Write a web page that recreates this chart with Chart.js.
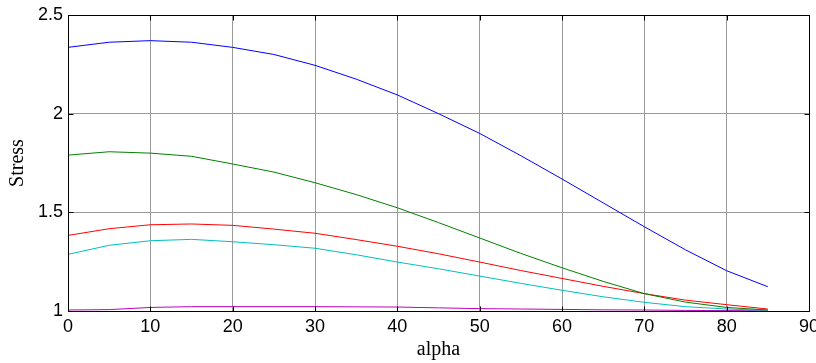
<!DOCTYPE html>
<html>
<head>
<meta charset="utf-8">
<script src="https://cdn.jsdelivr.net/npm/chart.js@4"></script>
<style>
    body { margin: 0; background: #fff; }
    #box { width: 816px; height: 363px; }
</style>
</head>
<body>
<div id="box"><canvas id="grafico" width="816" height="363"></canvas></div>
<script>
// DADOS
const alpha = [0, 5, 10, 15, 20, 25, 30, 35, 40, 45, 50, 55, 60, 65, 70, 75, 80, 85];
const xTicks = [0, 10, 20, 30, 40, 50, 60, 70, 80, 90];
const yTicks = [1, 1.5, 2, 2.5];

const stressBlue    = [2.336, 2.362, 2.370, 2.362, 2.336, 2.300, 2.245, 2.175, 2.095, 2.000, 1.900, 1.787, 1.669, 1.548, 1.427, 1.310, 1.204, 1.123];
const stressGreen   = [1.790, 1.807, 1.800, 1.784, 1.745, 1.704, 1.650, 1.590, 1.523, 1.448, 1.370, 1.292, 1.219, 1.150, 1.088, 1.045, 1.018, 1.005];
const stressRed     = [1.383, 1.417, 1.437, 1.441, 1.434, 1.415, 1.394, 1.362, 1.328, 1.290, 1.248, 1.205, 1.165, 1.125, 1.088, 1.055, 1.032, 1.010];
const stressCyan    = [1.287, 1.333, 1.356, 1.363, 1.351, 1.336, 1.318, 1.285, 1.248, 1.214, 1.177, 1.140, 1.105, 1.072, 1.044, 1.022, 1.010, 1.003];
const stressMagenta = [1.005, 1.007, 1.018, 1.022, 1.022, 1.022, 1.022, 1.021, 1.020, 1.016, 1.012, 1.010, 1.008, 1.006, 1.005, 1.003, 1.002, 1.001];

const pares = (ys) => alpha.map((x, i) => ({ x: x, y: ys[i] }));

const serie = (dados, cor) => ({
    data: pares(dados),
    borderColor: cor,
    borderWidth: 1,
    pointRadius: 0,
    tension: 0,
    fill: false
});

// moldura preta + marcas de tick para dentro (estilo MATLAB)
const moldura = {
    id: 'moldura',
    afterDatasetsDraw(chart) {
        const a = chart.chartArea;
        const ctx = chart.ctx;
        const L = Math.round(a.left) + 0.5, R = Math.round(a.right) + 0.5;
        const T = Math.round(a.top) + 0.5, B = Math.round(a.bottom) + 0.5;
        const tam = 5;
        ctx.save();
        ctx.strokeStyle = '#000';
        ctx.lineWidth = 1;
        ctx.beginPath();
        chart.scales.x.ticks.forEach(t => {
            const px = Math.round(chart.scales.x.getPixelForValue(t.value)) + 0.5;
            ctx.moveTo(px, B); ctx.lineTo(px, B - tam);
            ctx.moveTo(px, T); ctx.lineTo(px, T + tam);
        });
        chart.scales.y.ticks.forEach(t => {
            const py = Math.round(chart.scales.y.getPixelForValue(t.value)) + 0.5;
            ctx.moveTo(L, py); ctx.lineTo(L + tam, py);
            ctx.moveTo(R, py); ctx.lineTo(R - tam, py);
        });
        ctx.stroke();
        ctx.strokeRect(L, T, R - L, B - T);
        ctx.restore();
    }
};

const fonteTicks = { family: '"Liberation Sans", Arial, sans-serif', size: 18 };
const fonteTitulo = { family: '"Liberation Serif", "Times New Roman", serif', size: 20 };

new Chart(document.getElementById('grafico'), {
    type: 'line',
    data: {
        datasets: [
            serie(stressBlue, '#0000ff'),
            serie(stressGreen, '#008000'),
            serie(stressRed, '#ff0000'),
            serie(stressCyan, '#00bfbf'),
            serie(stressMagenta, '#bf00bf')
        ]
    },
    options: {
        responsive: false,
        animation: false,
        layout: { padding: { top: 15, right: 7, left: 0, bottom: 0 } },
        plugins: {
            legend: { display: false },
            tooltip: { enabled: false }
        },
        scales: {
            x: {
                type: 'linear',
                min: 0,
                max: 90,
                afterBuildTicks: (s) => { s.ticks = xTicks.map(v => ({ value: v })); },
                afterFit: (s) => { s.height = 52; s.paddingLeft = 0; s.paddingRight = 0; },
                grid: { color: '#9a9a9a', lineWidth: 1, drawTicks: false },
                border: { display: false },
                ticks: { color: '#000', font: fonteTicks, padding: 5, maxRotation: 0 },
                title: { display: true, text: 'alpha', color: '#000', font: fonteTitulo, padding: { top: 0, bottom: 1 } }
            },
            y: {
                min: 1,
                max: 2.5,
                afterBuildTicks: (s) => { s.ticks = yTicks.map(v => ({ value: v })); },
                afterFit: (s) => { s.width = 68; s.paddingTop = 0; s.paddingBottom = 0; },
                grid: { color: '#9a9a9a', lineWidth: 1, drawTicks: false },
                border: { display: false },
                ticks: {
                    color: '#000',
                    font: fonteTicks,
                    padding: 5,
                    callback: (v) => String(v)
                },
                title: { display: true, text: 'Stress', color: '#000', font: fonteTitulo, padding: { top: 6, bottom: 0 } }
            }
        }
    },
    plugins: [moldura]
});
</script>
</body>
</html>
